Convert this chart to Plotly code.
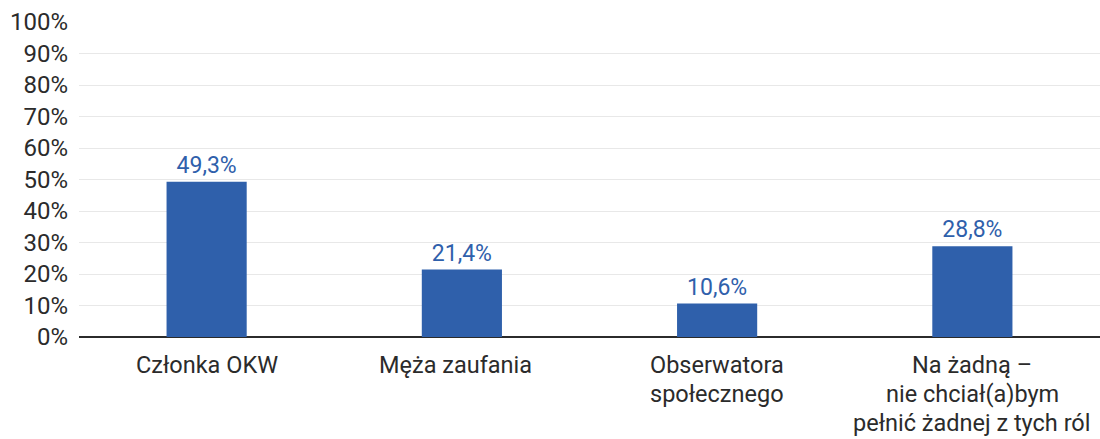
import plotly.graph_objects as go

# Roles respondents would be willing to take on in the election
categories = [
    "Członka OKW",
    "Męża zaufania",
    "Obserwatora\nspołecznego",
    "Na żadną –\nnie chciał(a)bym\npełnić żadnej z tych ról",
]
shares = [49.3, 21.4, 10.6, 28.8]
y_ticks = [0, 10, 20, 30, 40, 50, 60, 70, 80, 90, 100]

BAR_BLUE = "#2f60ab"
TEXT_DARK = "#2b2b2b"
FONT = "Roboto, 'Open Sans', sans-serif"

value_labels = [f"{v:.1f}".replace(".", ",") + "%" for v in shares]

fig = go.Figure(
    go.Bar(
        x=list(range(len(categories))),
        y=shares,
        marker=dict(color=BAR_BLUE, line=dict(width=0)),
        text=value_labels,
        textposition="outside",
        textfont=dict(family=FONT, size=23, color=BAR_BLUE),
        cliponaxis=False,
        width=0.314,
    )
)

# Category names drawn line by line under each bar
label_nudge = [0, -6, 0, 0]
annotations = []
line_step = 29
for i, name in enumerate(categories):
    for j, line in enumerate(name.split("\n")):
        annotations.append(
            dict(
                x=i,
                y=0,
                xref="x",
                yref="y",
                text=line,
                showarrow=False,
                xanchor="center",
                yanchor="top",
                xshift=label_nudge[i],
                yshift=-12 - j * line_step,
                font=dict(family=FONT, size=23.5, color=TEXT_DARK),
            )
        )

fig.update_layout(
    width=1100,
    height=439,
    margin=dict(l=79, r=0, t=22, b=102),
    paper_bgcolor="white",
    plot_bgcolor="white",
    showlegend=False,
    annotations=annotations,
    font=dict(family=FONT, size=23, color=TEXT_DARK),
    xaxis=dict(
        range=[-0.5, len(categories) - 0.5],
        showticklabels=False,
        showgrid=False,
        zeroline=False,
        showline=False,
        ticks="",
        fixedrange=True,
    ),
    yaxis=dict(
        range=[0, 100],
        tickvals=y_ticks,
        ticktext=[f"{t}%" for t in y_ticks],
        tickfont=dict(family=FONT, size=24, color=TEXT_DARK),
        showgrid=True,
        gridcolor="#e8e8e8",
        gridwidth=1,
        zeroline=True,
        zerolinecolor="#2b2b2b",
        zerolinewidth=2,
        showline=False,
        ticks="",
        ticklabelstandoff=10,
        fixedrange=True,
    ),
)

fig.write_html("out.html", config={"displayModeBar": False})
